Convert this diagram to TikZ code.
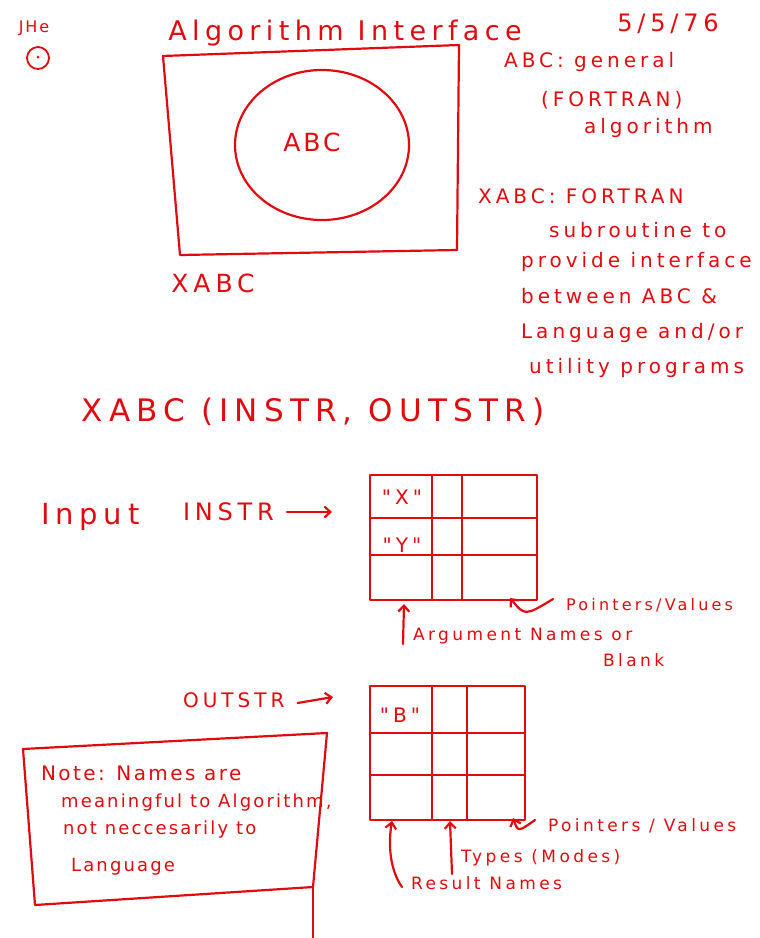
\documentclass[tikz,border=0pt]{standalone}
\usepackage{fontspec}
\usepackage{xcolor}
\usepackage{tikz}
\usetikzlibrary{shapes.geometric, arrows.meta}
\newfontfamily\hand[LetterSpace=20]{DejaVu Sans}
\newfontfamily\handtight[LetterSpace=12]{DejaVu Sans}
\definecolor{pen}{RGB}{225,10,15}

\begin{document}
\begin{tikzpicture}[x=1pt, y=-1pt, line width=2.2pt,
    ink/.style={draw=pen, line join=round, line cap=round},
    txt/.style={text=pen, inner sep=0pt, font=\hand\fontsize{20}{22}\selectfont},
    small/.style={txt, font=\hand\fontsize{17}{19}\selectfont},
    boxtxt/.style={txt, font=\handtight\fontsize{18}{20}\selectfont},
    tip/.style={ink, -{Straight Barb[length=6pt, width=11pt]}}]
    \useasboundingbox (0,0) rectangle (760,938);

    % header
    \node[txt, font=\handtight\fontsize{16}{18}\selectfont] (jhe) at (34,28) {JHe};
    \draw[ink, line width=1.8pt] (38,58) circle (11pt);
    \fill[pen] (38,57) circle (1.5pt);
    \node[txt, font=\hand\fontsize{27}{29}\selectfont] (title) at (345,33) {Algorithm Interface};
    \node[txt, font=\hand\fontsize{24}{26}\selectfont] (date) at (668,24) {5/5/76};

    % XABC wrapping ABC
    \draw[ink] (163,56) -- (459,45) -- (457,250) -- (180,255) -- cycle;
    \node[ink, ellipse, minimum width=174pt, minimum height=150pt, txt] (abc) at (322,145) {};
    \node[txt, font=\handtight\fontsize{25}{27}\selectfont] (abcname) at (312,142) {ABC};
    \node[txt, font=\hand\fontsize{25}{27}\selectfont] (xabc) at (213,283) {XABC};

    % notes on the right
    \foreach \n/\x/\y/\t in {a/503/62/{ABC: general}, b/540/100/{(FORTRAN)}, c/583/128/{algorithm},
        d/477/196/{XABC: FORTRAN}, e/548/230/{subroutine to}, f/520/262/{provide interface},
        g/520/296/{between ABC \&}, h/520/333/{Language and/or}, i/528/368/{utility programs}}
        \node[txt, anchor=west] (note\n) at (\x,\y) {\t};

    \node[txt, font=\hand\fontsize{31}{33}\selectfont] (call) at (313,412) {XABC (INSTR, OUTSTR)};

    % input structure
    \node[txt, font=\hand\fontsize{29}{31}\selectfont, anchor=west] (input) at (40,517) {Input};
    \node[txt, font=\hand\fontsize{24}{26}\selectfont, anchor=west] (instr) at (182,512) {INSTR};
    \coordinate (inhead) at (332,512);
    \draw[tip] (instr.east) ++(12pt,0) -- (inhead);
    \draw[ink] (370,475) rectangle (537,600);
    \foreach \x in {432,462} \draw[ink] (\x,475) -- (\x,600);
    \foreach \y in {518,555} \draw[ink] (370,\y) -- (537,\y);
    \node[txt] (argx) at (402,497) {"X"};
    \node[txt] (argy) at (402,545) {"Y"};
    \coordinate (inname) at (404,604);
    \coordinate (inval) at (510,598);
    \node[small, anchor=west] (argnames) at (412,636) {Argument Names or};
    \node[small, anchor=west] (blank) at (602,660) {Blank};
    \node[small, font=\hand\fontsize{16}{18}\selectfont, anchor=west] (inptr) at (565,605) {Pointers/Values};
    \draw[tip] (argnames.west) ++(-9pt,-8pt) -- (inname);
    \draw[tip] (inptr.west) ++(-12pt,6pt) .. controls (525,616) .. (inval);

    % output structure
    \node[txt, anchor=west] (outstr) at (182,700) {OUTSTR};
    \coordinate (outhead) at (333,697);
    \draw[tip] (outstr.east) ++(12pt,-3pt) -- (outhead);
    \draw[ink] (370,686) rectangle (525,820);
    \foreach \x in {432,467} \draw[ink] (\x,686) -- (\x,820);
    \foreach \y in {733,775} \draw[ink] (370,\y) -- (525,\y);
    \node[txt] (resb) at (400,715) {"B"};
    \coordinate (outname) at (392,821);
    \coordinate (outtype) at (450,821);
    \coordinate (outval) at (513,818);
    \node[small, anchor=west] (outptr) at (547,826) {Pointers / Values};
    \node[small, anchor=west] (types) at (460,858) {Types (Modes)};
    \node[small, anchor=west] (resnames) at (410,883) {Result Names};
    \draw[tip] (outptr.west) ++(-12pt,6pt) .. controls (518,832) .. (outval);
    \draw[tip] (types.west) ++(-8pt,-16pt) -- (outtype);
    \draw[tip] (resnames.west) ++(-8pt,-4pt) .. controls (390,870) and (388,845) .. (outname);

    % note box
    \draw[ink] (23,749) -- (327,733) -- (313,887) -- (35,905) -- cycle;
    \draw[ink] (313,887) -- (313,938);
    \node[boxtxt, font=\handtight\fontsize{20}{22}\selectfont, anchor=west] (rema) at (40,773) {Note: Names are};
    \foreach \n/\x/\y/\t in {b/60/803/{meaningful to Algorithm,}, c/62/830/{not neccesarily to}, d/70/867/{Language}}
        \node[boxtxt, anchor=west] (rem\n) at (\x,\y) {\t};
\end{tikzpicture}
\end{document}
